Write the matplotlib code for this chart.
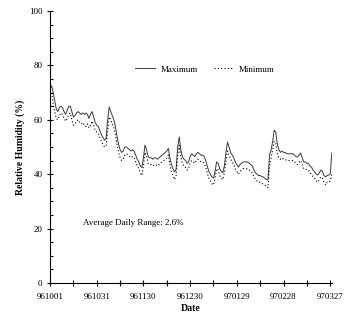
import matplotlib
matplotlib.use("Agg")
import matplotlib.pyplot as plt
from matplotlib.ticker import MultipleLocator

plt.rcParams["font.family"] = ["Liberation Serif", "DejaVu Serif"]

date_labels = ["961001", "961031", "961130", "961230", "970129", "970228", "970327"]

rh_max = [
    71.5, 72.5, 70, 67, 64, 63, 64.5, 65, 64.5, 63,
    62, 63.5, 65, 65, 63, 61, 61.5, 62.5, 63, 62.5,
    62, 62.5, 62, 62.5, 62, 60.5, 62, 63, 61, 59,
    58, 57.5, 56, 54.5, 53.5, 52.5, 53, 60, 64.7, 63,
    61.5, 60, 57.5, 54, 51, 49, 48, 48.5, 50, 50,
    49.5, 49, 48.5, 49, 48.5, 47, 45.5, 44.5, 43, 42.5,
    46, 50.7, 49, 46.5, 46, 46, 45.5, 46, 46, 45.5,
    46, 46.5, 47, 47.5, 48, 48.5, 49.5, 46, 43.5, 42,
    40.8, 42, 50, 53.7, 49, 46.5, 45.5, 45, 44, 44.5,
    46.5, 47.5, 47, 46.5, 47.5, 48, 47.5, 47, 47, 46.5,
    45, 43, 41, 40, 39, 38.6, 41, 44.5, 44, 42,
    41, 40.5, 43, 48, 51.8, 50, 48, 47, 46, 44.5,
    43.5, 42.6, 43.5, 44, 44.5, 44.5, 44.5, 44.5, 44, 43.5,
    43, 41.5, 40.5, 40, 39.5, 39.5, 39, 39, 38.5, 38,
    37.9, 47, 49, 52, 56.2, 55.5, 51, 49, 48, 48.5,
    48, 48, 47.5, 47.5, 47.5, 47.5, 47.5, 47, 46.5, 46.3,
    47, 47.8, 46, 44.5, 44.5, 44, 44, 43, 42.5, 41.5,
    40.8, 40, 39.7, 40.5, 41.5, 41, 39.5, 39, 39.5, 39.7,
    40, 47.8,
]

rh_min = [
    69, 70, 66, 63, 60.5, 60, 61.5, 62.5, 62, 60.5,
    59.5, 60.5, 62, 62.5, 60, 58, 58.5, 59.5, 60, 59,
    58.5, 59, 58, 57.5, 58.5, 57, 58, 59.5, 58, 56,
    55.5, 55, 53.5, 52, 51, 50, 50.5, 56, 61, 60,
    58.5, 57, 54.5, 51, 48, 46, 45, 45.5, 47, 47.5,
    47, 46.5, 46, 46.5, 46, 44.5, 43, 42, 40.5, 39.5,
    43, 48, 46.5, 44, 43.5, 43.5, 43, 43.5, 43.5, 43,
    43.5, 44, 44.5, 45, 45.5, 46, 47, 43.5, 41, 39.5,
    38, 39.5, 47, 50.5, 46.5, 44, 43, 42.5, 41.5, 42,
    44, 45, 44.5, 44, 45, 45.5, 45, 44.5, 44.5, 44,
    42.5, 40.5, 38.5, 37.5, 36.5, 36, 38.5, 42, 41.5, 39.5,
    38.5, 38, 40.5, 45, 48.5, 47, 45.5, 44.5, 43.5, 42,
    41, 40, 41, 41.5, 42, 42, 42, 42, 41.5, 41,
    40.5, 39, 38, 37.5, 37, 37, 36.5, 36.5, 36, 35.5,
    35, 43.5, 46, 49, 52, 51.5, 47.5, 46, 45.5, 46,
    45.5, 45.5, 45, 45, 45, 45, 45, 44.5, 44, 43.5,
    44.5, 45, 43.5, 42, 42, 41.5, 41.5, 40.5, 40, 39,
    38.5, 37.5, 37, 38, 39, 38.5, 37, 36, 37, 37,
    37.5, 40,
]

days = list(range(len(rh_max)))

fig = plt.figure(figsize=(3.5, 3.23), dpi=100)
ax = fig.add_axes([0.143, 0.124, 0.805, 0.842])

ax.plot(days, rh_max, color="#3a3a3a", lw=0.7, ls="-", label="Maximum")
ax.plot(days, rh_min, color="#000000", lw=0.8, ls=(0, (1, 2)), label="Minimum")

ax.set_xlim(0, 181)
ax.set_ylim(0, 100)
ax.set_xticks(range(0, 181, 30))
ax.set_xticklabels(date_labels)
ax.xaxis.set_minor_locator(MultipleLocator(15))
ax.yaxis.set_major_locator(MultipleLocator(20))
ax.yaxis.set_minor_locator(MultipleLocator(5))

for s in ["top", "right"]:
    ax.spines[s].set_visible(False)
for s in ["left", "bottom"]:
    ax.spines[s].set_linewidth(0.8)

ax.tick_params(which="major", direction="inout", length=5, width=0.8, labelsize=6.5)
ax.tick_params(axis="x", which="major", pad=5)
ax.tick_params(axis="y", which="major", pad=3)
ax.tick_params(which="minor", direction="inout", length=4, width=0.8)
ax.tick_params(axis="y", which="minor", direction="in", length=2.5)

ax.set_xlabel("Date", fontsize=7, fontweight="bold", labelpad=2)
ax.set_ylabel("Relative Humidity (%)", fontsize=7, fontweight="bold", labelpad=3)

ax.text(21, 22, "Average Daily Range: 2.6%", fontsize=6.5, va="center", ha="left")

ax.legend(loc="center", bbox_to_anchor=(0.55, 0.785), ncol=2, frameon=False,
          fontsize=6.5, handlelength=2.2, columnspacing=1.8, handletextpad=0.6)

fig.savefig("out.png", dpi=100)
